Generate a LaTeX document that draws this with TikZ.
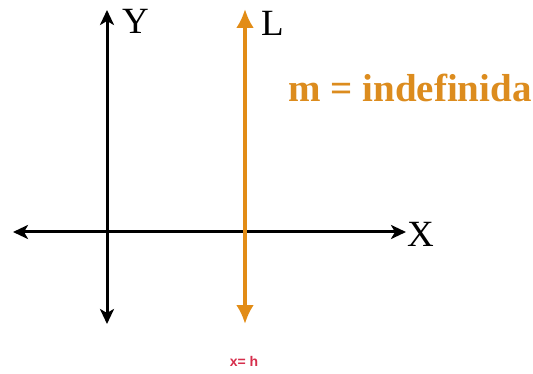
\documentclass[tikz,border=0pt]{standalone}
\usepackage{fontspec}
\setmainfont{Liberation Serif}
\newfontfamily\labelsans{Liberation Sans}
\usetikzlibrary{arrows.meta, positioning}

\definecolor{lineorange}{RGB}{226,140,22}
\definecolor{textorange}{RGB}{220,140,30}
\definecolor{eqred}{RGB}{214,46,76}

\begin{document}
\begin{tikzpicture}[
    x=1pt, y=-1pt,
    axis/.style={{Stealth[length=15pt, width=14pt, inset=4pt]}-{Stealth[length=15pt, width=14pt, inset=4pt]}, line width=3pt, black},
    vline/.style={{Latex[length=19pt, width=18pt]}-{Latex[length=19pt, width=18pt]}, line width=4pt, lineorange},
    axislabel/.style={font=\fontsize{37}{37}\selectfont, inner sep=0pt},
]
    \useasboundingbox (0,0) rectangle (533,374);

    % axes
    \coordinate (xleft)  at (13,232);
    \coordinate (xright) at (406,232);
    \coordinate (ytop)   at (107,10);
    \coordinate (ybot)   at (107,324);
    \draw[axis] (xleft) -- (xright);
    \draw[axis] (ybot) -- (ytop);

    % vertical line L
    \coordinate (ltop) at (245,9);
    \coordinate (lbot) at (245,324);
    \draw[vline] (lbot) -- (ltop);

    \node[axislabel, anchor=west] (xlab) at (407,234) {X};
    \node[axislabel, anchor=west] (ylab) at (122,21)  {Y};
    \node[axislabel, anchor=west] (llab) at (261,23)  {L};

    \node[font=\fontsize{39}{39}\selectfont\bfseries, text=textorange, inner sep=0pt]
        (slope) at (410,88) {m = indefinida};
    \node[font=\labelsans\fontsize{14}{14}\selectfont\bfseries, text=eqred, inner sep=0pt]
        (eq) at (244,361) {x= h};
\end{tikzpicture}
\end{document}
